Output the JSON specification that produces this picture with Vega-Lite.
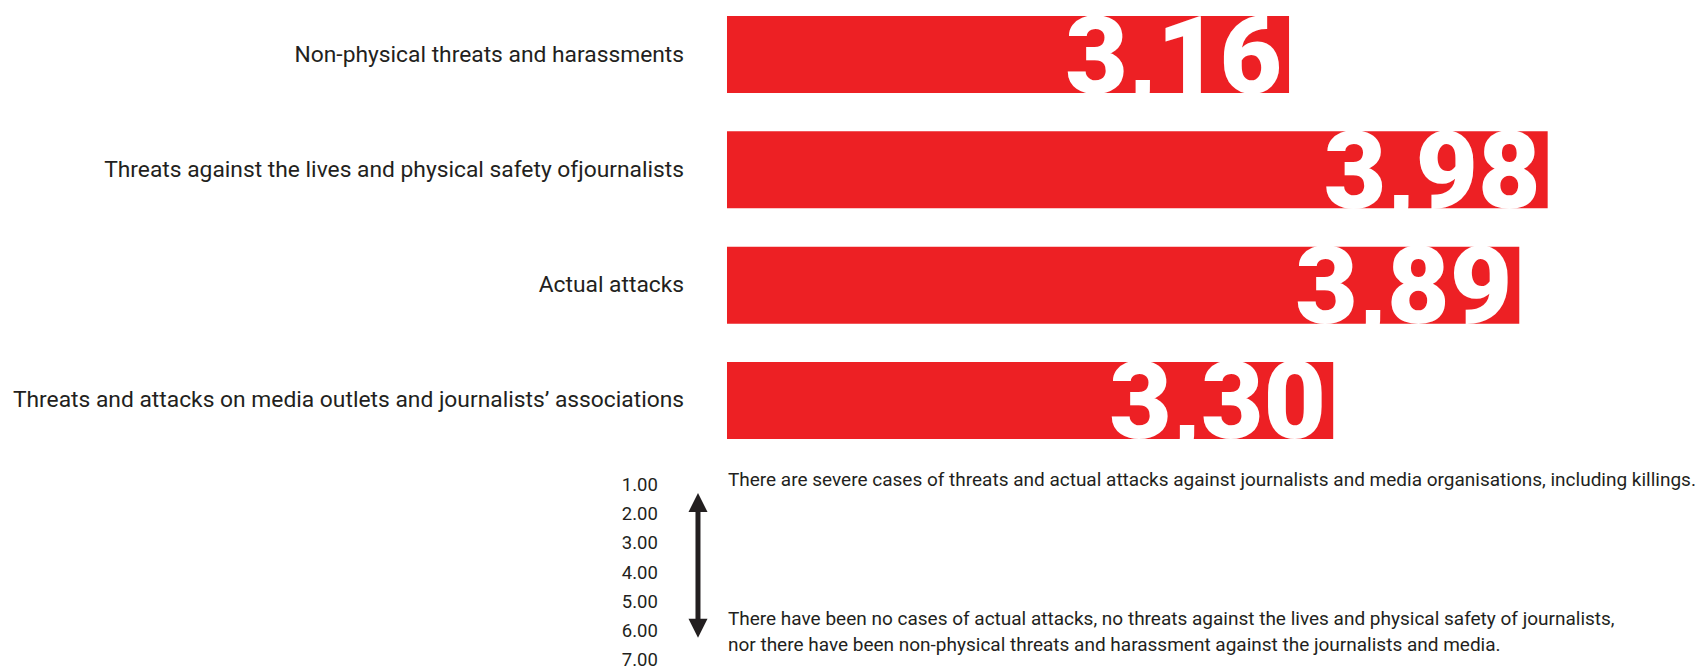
{
  "$schema": "https://vega.github.io/schema/vega-lite/v6.json",
  "width": 1703,
  "height": 670,
  "autosize": {"type": "none"},
  "padding": 0,
  "background": "white",
  "config": {"view": {"stroke": null}},
  "datasets": {
    "bars": [
      {"cat": "Non-physical threats and harassments", "value": 3.16},
      {"cat": "Threats against the lives and physical safety ofjournalists", "value": 3.98},
      {"cat": "Actual attacks", "value": 3.89},
      {"cat": "Threats and attacks on media outlets and journalists’ associations", "value": 3.30}
    ],
    "levels": [
      {"level": 1}, {"level": 2}, {"level": 3}, {"level": 4}, {"level": 5}, {"level": 6}, {"level": 7}
    ],
    "arrow": [
      {"from": 1.6, "to": 5.91}
    ],
    "topNote": [
      {"level": 1, "text": "There are severe cases of threats and actual attacks against journalists and media organisations, including killings."}
    ],
    "bottomNote": [
      {"level": 6, "text": ["There have been no cases of actual attacks, no threats against the lives and physical safety of journalists,", "nor there have been non-physical threats and harassment against the journalists and media."]}
    ]
  },
  "layer": [
    {
      "data": {"name": "bars"},
      "transform": [
        {"calculate": "replace(format(datum.value, '.2f'), '.', ',')", "as": "label"}
      ],
      "encoding": {
        "y": {
          "field": "cat",
          "type": "nominal",
          "sort": null,
          "axis": null,
          "scale": {"range": [0, 455], "paddingInner": 0.332, "paddingOuter": 0.139}
        }
      },
      "layer": [
        {
          "mark": {"type": "bar", "color": "#ED2024"},
          "encoding": {
            "x": {"field": "value", "type": "quantitative", "axis": null, "scale": {"domain": [-0.927, 4.4725], "nice": false, "zero": false}},
            "x2": {"datum": 1.378}
          }
        },
        {
          "mark": {"type": "text", "align": "right", "baseline": "middle", "font": "Roboto", "fontSize": 22.8, "color": "#231F20"},
          "encoding": {
            "x": {"datum": 1.242, "type": "quantitative"},
            "text": {"field": "cat"}
          }
        },
        {
          "mark": {"type": "text", "align": "right", "baseline": "alphabetic", "font": "Roboto", "fontWeight": 900, "fontSize": 108, "color": "white", "dx": -7, "dy": 38},
          "encoding": {
            "x": {"field": "value", "type": "quantitative"},
            "text": {"field": "label"}
          }
        }
      ]
    },
    {
      "layer": [
        {
          "data": {"name": "levels"},
          "mark": {"type": "text", "align": "right", "baseline": "middle", "font": "Roboto", "fontSize": 18.5, "color": "#231F20"},
          "encoding": {
            "x": {"datum": 1.159, "type": "quantitative"},
            "y": {"field": "level", "type": "quantitative", "axis": null, "scale": {"domain": [1, 7], "range": [485, 660]}},
            "text": {"field": "level", "format": ".2f"}
          }
        },
        {
          "data": {"name": "arrow"},
          "mark": {"type": "rule", "color": "#231F20", "strokeWidth": 5},
          "encoding": {
            "x": {"datum": 1.286, "type": "quantitative"},
            "y": {"field": "from", "type": "quantitative"},
            "y2": {"field": "to"}
          }
        },
        {
          "data": {"name": "arrow"},
          "mark": {"type": "point", "filled": true, "opacity": 1, "color": "#231F20", "shape": "M0,-1L-1,1L1,1Z", "size": 361},
          "encoding": {
            "x": {"datum": 1.286, "type": "quantitative"},
            "y": {"field": "from", "type": "quantitative"}
          }
        },
        {
          "data": {"name": "arrow"},
          "mark": {"type": "point", "filled": true, "opacity": 1, "color": "#231F20", "shape": "M0,1L-1,-1L1,-1Z", "size": 361},
          "encoding": {
            "x": {"datum": 1.286, "type": "quantitative"},
            "y": {"field": "to", "type": "quantitative"}
          }
        },
        {
          "data": {"name": "topNote"},
          "mark": {"type": "text", "align": "left", "baseline": "middle", "font": "Roboto", "fontSize": 19, "color": "#231F20", "dy": -5},
          "encoding": {
            "x": {"datum": 1.381, "type": "quantitative"},
            "y": {"field": "level", "type": "quantitative"},
            "text": {"field": "text"}
          }
        },
        {
          "data": {"name": "bottomNote"},
          "mark": {"type": "text", "align": "left", "baseline": "middle", "font": "Roboto", "fontSize": 19, "lineHeight": 26, "color": "#231F20", "dy": -12},
          "encoding": {
            "x": {"datum": 1.381, "type": "quantitative"},
            "y": {"field": "level", "type": "quantitative"},
            "text": {"field": "text"}
          }
        }
      ]
    }
  ],
  "resolve": {"scale": {"y": "independent"}}
}
